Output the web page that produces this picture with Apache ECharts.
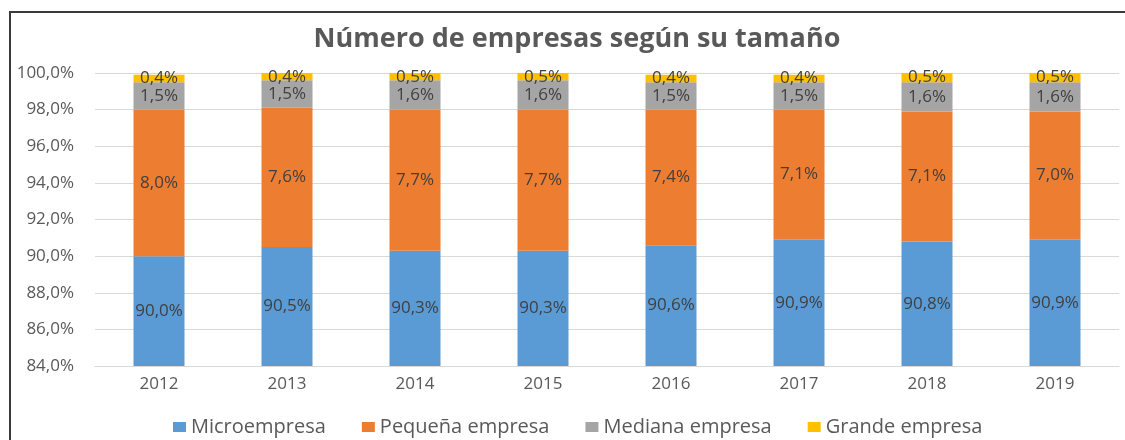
<!DOCTYPE html>
<html>
<head>
<meta charset="utf-8">
<script src="https://cdn.jsdelivr.net/npm/echarts@6/dist/echarts.min.js"></script>
<style>
  html, body { margin: 0; padding: 0; background: #fff; overflow: hidden; }
  #chart { width: 1125px; height: 440px; }
</style>
</head>
<body>
<div id="chart"></div>
<script>
(function(){

    var years = ['2012', '2013', '2014', '2015', '2016', '2017', '2018', '2019'],

        micro   = [90.0, 90.5, 90.3, 90.3, 90.6, 90.9, 90.8, 90.9],
        pequena = [8.0, 7.6, 7.7, 7.7, 7.4, 7.1, 7.1, 7.0],
        mediana = [1.5, 1.5, 1.6, 1.6, 1.5, 1.5, 1.6, 1.6],
        grande  = [0.4, 0.4, 0.5, 0.5, 0.4, 0.4, 0.5, 0.5],

        names  = ['Microempresa', 'Pequeña empresa', 'Mediana empresa', 'Grande empresa'],
        colors = ['#5b9bd5', '#ed7d31', '#a5a5a5', '#ffc000'],

        font = 'Open Sans',
        textColor = '#595959',

        chart = echarts.init(document.getElementById('chart'))

    function pct(v){
        return v.toFixed(1).replace('.', ',') + '%'
    }

    function makeSeries(name, data, color){
        return {
            name : name,
            type : 'bar',
            stack : 'total',
            barWidth : 51,
            data : data,
            itemStyle : { color : color },
            label : {
                show : true,
                position : 'inside',
                fontFamily : font,
                fontSize : 17,
                color : '#404040',
                formatter : function(p){ return pct(p.value) }
            }
        }
    }

    var option = {
        backgroundColor : '#fff',
        animation : false,
        color : colors,
        // marco del grafico (solo arriba e izquierda)
        graphic : [{
            type : 'polyline',
            shape : { points : [[10, 440], [10, 12], [1125, 12]] },
            style : { stroke : '#3a3a3a', lineWidth : 2, fill : null },
            silent : true
        }],
        title : {
            text : 'Número de empresas según su tamaño',
            left : 572,
            textAlign : 'center',
            top : 21,
            textStyle : {
                fontFamily : font,
                fontSize : 27,
                fontWeight : 'bold',
                color : textColor
            }
        },
        legend : {
            top : 412,
            left : 168,
            icon : 'rect',
            itemWidth : 13,
            itemHeight : 10,
            itemGap : 36,
            data : names,
            textStyle : {
                fontFamily : font,
                fontSize : 20,
                color : textColor
            }
        },
        grid : {
            left : 95,
            right : 6,
            top : 73,
            bottom : 74
        },
        xAxis : {
            type : 'category',
            data : years,
            axisTick : { show : false },
            axisLine : { lineStyle : { color : '#d9d9d9' } },
            axisLabel : {
                margin : 10,
                fontFamily : font,
                fontSize : 17,
                color : textColor
            }
        },
        yAxis : {
            type : 'value',
            min : 84,
            max : 100,
            interval : 2,
            axisLine : { show : false },
            axisTick : { show : false },
            splitLine : { lineStyle : { color : '#d9d9d9', width : 1 } },
            axisLabel : {
                margin : 21,
                fontFamily : font,
                fontSize : 17,
                color : textColor,
                formatter : function(v){ return pct(v) }
            }
        },
        series : [
            makeSeries(names[0], micro, colors[0]),
            makeSeries(names[1], pequena, colors[1]),
            makeSeries(names[2], mediana, colors[2]),
            makeSeries(names[3], grande, colors[3])
        ]
    }

    chart.setOption(option)

})()
</script>
</body>
</html>
